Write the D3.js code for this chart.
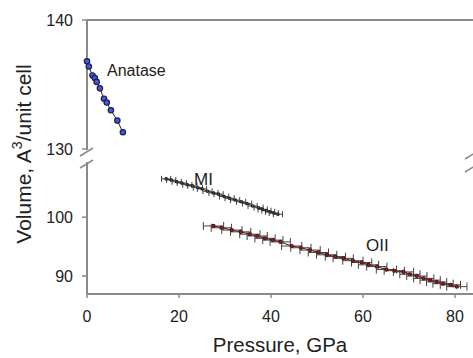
<!DOCTYPE html>
<html>
<head>
<meta charset="utf-8">
<script src="https://cdn.jsdelivr.net/npm/d3@7"></script>
<style>
  body { margin: 0; background: #fff; }
  svg { display: block; font-family: "Liberation Sans", Arial, sans-serif; }
</style>
</head>
<body>
<div id="chart"></div>
<script>
// anatase: pressure (GPa) / volume (A^3 per cell)
var anataseP = [0, 0.4, 1.2, 1.7, 2.1, 2.8, 3.7, 4.3, 5.2, 6.6, 7.8];
var anataseV = [136.8, 136.4, 135.7, 135.5, 135.2, 134.7, 133.9, 133.6, 133.0, 132.2, 131.3];

// MI phase
var miP = [17.2, 18.3, 19.5, 20.6, 21.8, 22.9, 24.1, 25.0, 26.2, 27.5, 28.6, 29.8, 31.0, 32.2, 33.5, 34.8, 36.0, 37.3, 38.2, 39.0, 39.8, 40.6, 41.5];
var miV = [106.5, 106.3, 106.0, 105.8, 105.5, 105.3, 105.0, 104.8, 104.4, 104.1, 103.9, 103.5, 103.2, 102.9, 102.6, 102.3, 101.9, 101.6, 101.3, 101.1, 100.9, 100.7, 100.5];
var miErr = 1.0;

// OII phase
var oiiP = [27.5, 29.2, 31.5, 33.4, 35.4, 37.0, 38.7, 40.4, 42.0, 44.5, 46.5, 48.5, 50.3, 52.1, 54.0, 55.7, 57.8, 59.7, 61.2, 63.0, 65.1, 66.8, 68.8, 70.2, 71.7, 73.2, 74.6, 76.0, 77.4, 79.0, 80.4];
var oiiV = [98.5, 98.2, 97.8, 97.5, 97.1, 96.8, 96.4, 96.1, 95.8, 95.1, 94.8, 94.4, 94.0, 93.6, 93.3, 93.0, 92.6, 92.3, 91.9, 91.6, 91.1, 90.9, 90.7, 90.3, 90.0, 89.6, 89.3, 89.0, 88.7, 88.5, 88.2];
var oiiErr = 2.2;

var xTicks = [0, 20, 40, 60, 80];
var upperTicks = [130, 140];
var lowerTicks = [90, 100];

var width = 473, height = 358;
var axisColor = "#8a8a8a";

var svg = d3.select("#chart").append("svg")
    .attr("width", width)
    .attr("height", height);

var x = d3.scaleLinear().domain([0, 84]).range([87, 473.4]);
var yUp = d3.scaleLinear().domain([130, 140]).range([149, 20]);
var yLow = d3.scaleLinear().domain([86.95, 109.7]).range([294, 160]);

// frame lines
svg.append("line").attr("x1", x(0)).attr("x2", width).attr("y1", 20).attr("y2", 20)
    .attr("stroke", axisColor).attr("stroke-width", 2);
svg.append("line").attr("x1", x(0)).attr("x2", width).attr("y1", 294).attr("y2", 294)
    .attr("stroke", axisColor).attr("stroke-width", 2);
svg.append("line").attr("x1", x(0)).attr("x2", x(0)).attr("y1", 20).attr("y2", 150)
    .attr("stroke", axisColor).attr("stroke-width", 2);
svg.append("line").attr("x1", x(0)).attr("x2", x(0)).attr("y1", 162).attr("y2", 294)
    .attr("stroke", axisColor).attr("stroke-width", 2);

// break marks
[[x(0), 152], [x(0), 164], [472, 155], [472, 168]].forEach(function(b){
    svg.append("line")
        .attr("x1", b[0] - 7).attr("y1", b[1] + 4)
        .attr("x2", b[0] + 6).attr("y2", b[1] - 4)
        .attr("stroke", axisColor).attr("stroke-width", 1.5);
});

// x ticks
var xg = svg.append("g").attr("transform", "translate(0,294)");
xg.selectAll("line").data(xTicks).enter().append("line")
    .attr("x1", function(d){ return x(d); }).attr("x2", function(d){ return x(d); })
    .attr("y1", 0).attr("y2", 4)
    .attr("stroke", axisColor).attr("stroke-width", 1.5);
xg.selectAll("text").data(xTicks).enter().append("text")
    .attr("x", function(d){ return x(d); })
    .attr("y", 28)
    .attr("text-anchor", "middle")
    .attr("font-size", 16).attr("fill", "#222")
    .text(function(d){ return d; });

// y ticks, both panels
var drawYTicks = function(scale, ticks){
    var g = svg.append("g");
    g.selectAll("line").data(ticks).enter().append("line")
        .attr("x1", x(0) - 5).attr("x2", x(0))
        .attr("y1", function(d){ return scale(d); }).attr("y2", function(d){ return scale(d); })
        .attr("stroke", axisColor).attr("stroke-width", 1.5);
    g.selectAll("text").data(ticks).enter().append("text")
        .attr("x", 73)
        .attr("y", function(d){ return scale(d); })
        .attr("dy", "0.35em")
        .attr("text-anchor", "end")
        .attr("font-size", 16).attr("fill", "#222")
        .text(function(d){ return d; });
};
drawYTicks(yUp, upperTicks);
drawYTicks(yLow, lowerTicks);

// axis titles
svg.append("text")
    .attr("x", x(40) + 9).attr("y", 352)
    .attr("text-anchor", "middle")
    .attr("font-size", 20.5).attr("fill", "#222")
    .text("Pressure, GPa");

var yt = svg.append("text")
    .attr("transform", "translate(31,154) rotate(-90)")
    .attr("text-anchor", "middle")
    .attr("font-size", 21).attr("fill", "#222");
yt.append("tspan").text("Volume, A");
yt.append("tspan").attr("font-size", 14).attr("dy", -9).text("3");
yt.append("tspan").attr("dy", 9).text("/unit cell");

var line = d3.line();

// series with horizontal error bars
var drawSeries = function(P, V, scale, err, cap, markerFill, markerStroke, r){
    var pts = P.map(function(p, i){ return [x(p), scale(V[i]), p]; });
    svg.append("path").attr("d", line(pts.map(function(d){ return [d[0], d[1]]; })))
        .attr("fill", "none").attr("stroke", "#222").attr("stroke-width", 1);
    if (err > 0) {
        var g = svg.append("g").attr("stroke", "#444").attr("stroke-width", 1);
        pts.forEach(function(d){
            g.append("line").attr("x1", x(d[2] - err)).attr("x2", x(d[2] + err))
                .attr("y1", d[1]).attr("y2", d[1]);
            g.append("line").attr("x1", x(d[2] - err)).attr("x2", x(d[2] - err))
                .attr("y1", d[1] - cap).attr("y2", d[1] + cap);
            g.append("line").attr("x1", x(d[2] + err)).attr("x2", x(d[2] + err))
                .attr("y1", d[1] - cap).attr("y2", d[1] + cap);
        });
    }
    svg.append("g").selectAll("circle").data(pts).enter().append("circle")
        .attr("cx", function(d){ return d[0]; })
        .attr("cy", function(d){ return d[1]; })
        .attr("r", r)
        .attr("fill", markerFill)
        .attr("stroke", markerStroke)
        .attr("stroke-width", 1.2);
};

drawSeries(anataseP, anataseV, yUp, 0, 0, "#4658d8", "#1b2050", 2.7);
drawSeries(miP, miV, yLow, miErr, 3, "#777", "#222", 1.2);
drawSeries(oiiP, oiiV, yLow, oiiErr, 4, "#c01818", "#5a1010", 1.5);

// series labels
svg.append("text").attr("x", 107).attr("y", 76).attr("font-size", 16).attr("fill", "#222").text("Anatase");
svg.append("text").attr("x", 194).attr("y", 185).attr("font-size", 17).attr("fill", "#222").text("MI");
svg.append("text").attr("x", 366).attr("y", 251).attr("font-size", 17).attr("fill", "#222").text("OII");
</script>
</body>
</html>
